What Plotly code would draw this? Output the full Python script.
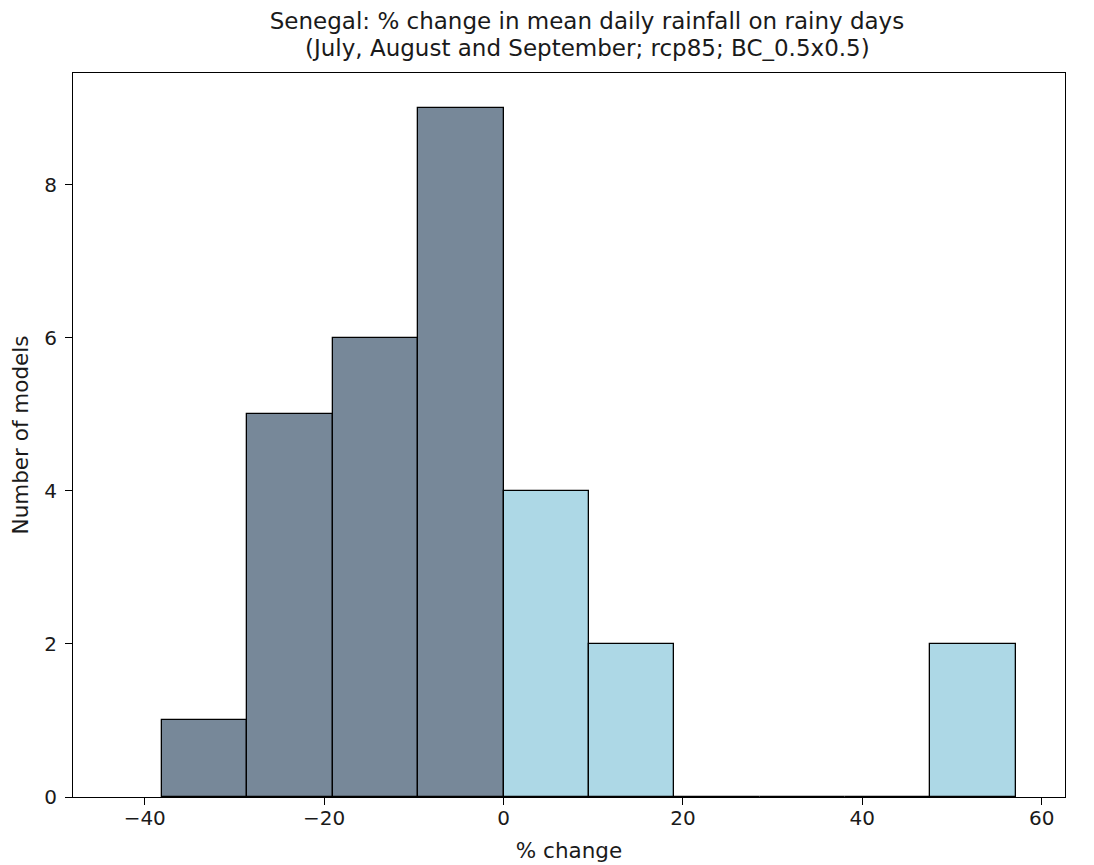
import plotly.graph_objects as go

# Histogram data (bin edges in % change, counts = number of models)
bin_width = 9.52
dark_left_edges = [-38.08, -28.56, -19.04, -9.52]
dark_counts = [1, 5, 6, 9]
light_left_edges = [0.0, 9.52, 19.04, 28.56, 38.08, 47.6]
light_counts = [4, 2, 0, 0, 0, 2]

x_ticks = [-40, -20, 0, 20, 40, 60]
y_ticks = [0, 2, 4, 6, 8]

title_line1 = "Senegal: % change in mean daily rainfall on rainy days"
title_line2 = "(July, August and September; rcp85; BC_0.5x0.5)"

FONT = "DejaVu Sans"
TXT = "#1a1a1a"
TITLE_SIZE = 23

fig = go.Figure()
fig.add_trace(go.Bar(
    x=[e + bin_width / 2 for e in dark_left_edges], y=dark_counts,
    width=bin_width, marker=dict(color="#778899", line=dict(color="black", width=1.3)),
    showlegend=False))
fig.add_trace(go.Bar(
    x=[e + bin_width / 2 for e in light_left_edges], y=light_counts,
    width=bin_width, marker=dict(color="#ADD8E6", line=dict(color="black", width=1.3)),
    showlegend=False))

title_x = (587 - 8) / 1094
fig.update_layout(
    width=1094, height=865,
    margin=dict(l=65, r=37, t=65, b=76, autoexpand=False),
    paper_bgcolor="white", plot_bgcolor="white",
    font=dict(family=FONT, size=20, color=TXT),
    bargap=0,
    title=dict(text=title_line1, x=title_x, xanchor="center",
               y=1 - (20.5 - 8) / 865, yanchor="middle", yref="container",
               font=dict(family=FONT, size=TITLE_SIZE, color=TXT)),
    xaxis=dict(range=[-48.0, 62.6], tickvals=x_ticks,
               ticktext=[("\u2212" + str(-v)) if v < 0 else str(v) for v in x_ticks],
               showgrid=False, zeroline=False, showline=True, linecolor="black",
               linewidth=1.2, mirror=True, ticks="outside", ticklen=7,
               tickcolor="black", tickwidth=1.2, ticklabelstandoff=-4,
               title=dict(text="% change", font=dict(size=21.5), standoff=13)),
    yaxis=dict(range=[0, 9.46], tickvals=y_ticks,
               showgrid=False, zeroline=False, showline=True, linecolor="black",
               linewidth=1.2, mirror=True, ticks="outside", ticklen=7,
               tickcolor="black", tickwidth=1.2, ticklabelstandoff=4,
               title=dict(text="Number of models", font=dict(size=21.5), standoff=10)),
)
fig.add_annotation(text=title_line2, xref="paper", yref="paper",
                   x=(587 - 73) / (1065 - 73), xanchor="center",
                   y=1 + (73 - 47.5) / 724, yanchor="middle", showarrow=False,
                   font=dict(family=FONT, size=TITLE_SIZE, color=TXT))

fig.write_html("out.html")
